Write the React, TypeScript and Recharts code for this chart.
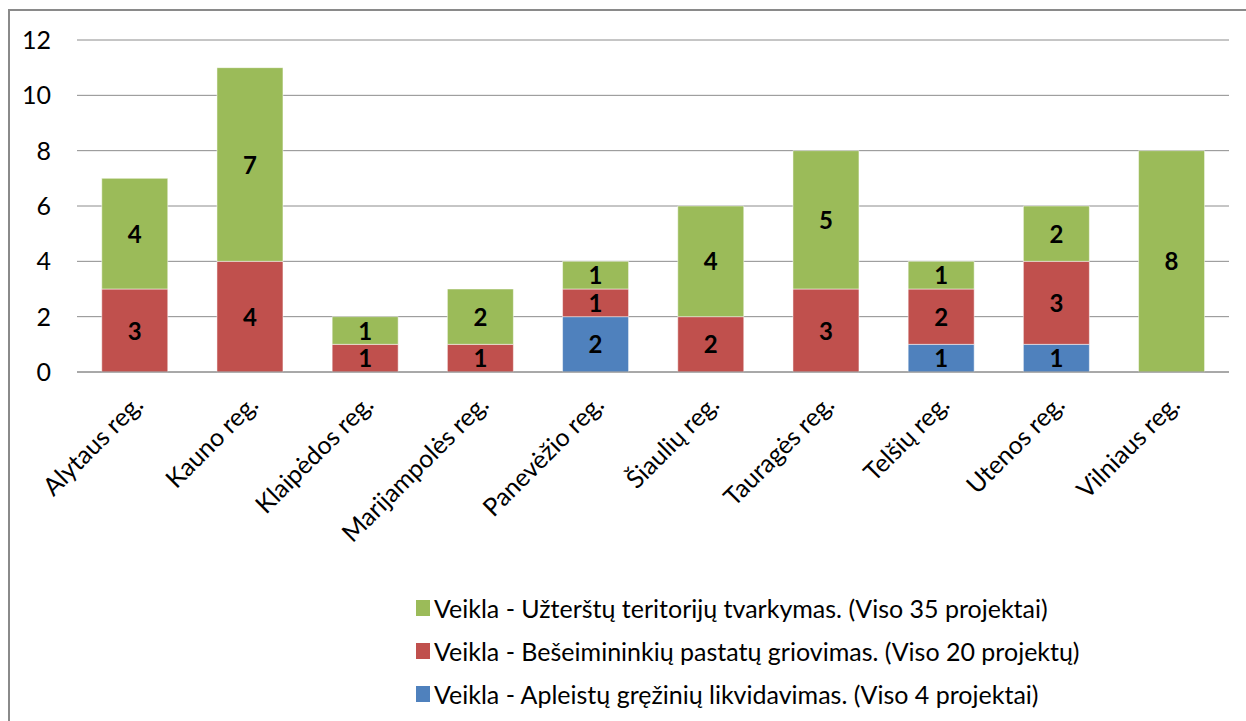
import React from 'react';
import { BarChart, Bar, XAxis, YAxis, CartesianGrid, LabelList } from 'recharts';

// Regions and project counts per activity
const regions = [
  'Alytaus reg.',
  'Kauno reg.',
  'Klaipėdos reg.',
  'Marijampolės reg.',
  'Panevėžio reg.',
  'Šiaulių reg.',
  'Tauragės reg.',
  'Telšių reg.',
  'Utenos reg.',
  'Vilniaus reg.',
];
const greziniai = [0, 0, 0, 0, 2, 0, 0, 1, 1, 0];
const pastatai = [3, 4, 1, 1, 1, 2, 3, 2, 3, 0];
const teritorijos = [4, 7, 1, 2, 1, 4, 5, 1, 2, 8];
const yTicks = [0, 2, 4, 6, 8, 10, 12];

// legend order as in the picture (top to bottom)
const legendItems = [
  { name: 'Veikla - Užterštų teritorijų tvarkymas. (Viso 35 projektai)', color: '#9BBB59' },
  { name: 'Veikla - Bešeimininkių pastatų griovimas. (Viso 20 projektų)', color: '#C0504D' },
  { name: 'Veikla - Apleistų gręžinių likvidavimas. (Viso 4 projektai)', color: '#4F81BD' },
];

const data = regions.map((name, i) => ({
  name,
  greziniai: greziniai[i],
  pastatai: pastatai[i],
  teritorijos: teritorijos[i],
}));

const FONT = 'Lato, "Liberation Sans", sans-serif';

const XTick = (props: any) => {
  const { x, y, payload } = props;
  const ax = x + 10;
  const ay = y + 32;
  return (
    <text
      x={ax}
      y={ay}
      transform={`rotate(-45, ${ax}, ${ay})`}
      textAnchor="end"
      fontSize={25}
      fontFamily={FONT}
      fill="#000"
    >
      {payload.value}
    </text>
  );
};

const SegLabel = (props: any) => {
  const { x, y, width, height, value } = props;
  if (!value) return null;
  return (
    <text
      x={x + width / 2}
      y={y + height / 2}
      dy={9}
      textAnchor="middle"
      fontSize={24}
      fontWeight="bold"
      fontFamily={FONT}
      fill="#000"
    >
      {value}
    </text>
  );
};

export default function App() {
  return (
    <div style={{ position: 'absolute', left: 0, top: 0, width: 1246, height: 721, overflow: 'hidden', background: '#fff' }}>
      <div
        style={{
          position: 'absolute',
          left: 8,
          top: 9,
          width: 1260,
          height: 740,
          border: '2px solid #8a8a8a',
        }}
      />
      <div style={{ position: 'absolute', left: 0, top: 0 }}>
        <BarChart
          width={1246}
          height={721}
          data={data}
          barCategoryGap="21.5%"
          margin={{ top: 40, right: 17, bottom: 0, left: 0 }}
        >
          <CartesianGrid horizontal vertical={false} stroke="#8c8c8c" strokeWidth={1} />
          <XAxis
            dataKey="name"
            interval={0}
            tick={<XTick />}
            tickLine={false}
            tickSize={0}
            axisLine={{ stroke: '#8c8c8c' }}
            height={349}
          />
          <YAxis
            domain={[0, 12]}
            ticks={yTicks}
            width={77}
            axisLine={false}
            tickLine={false}
            tickSize={0}
            tickMargin={26}
            tick={{ fontSize: 25, fontFamily: FONT, fill: '#000' }}
          />
          <Bar dataKey="greziniai" stackId="a" fill="#4F81BD" stroke="#ffffff" strokeWidth={0.5} isAnimationActive={false}>
            <LabelList dataKey="greziniai" content={<SegLabel />} />
          </Bar>
          <Bar dataKey="pastatai" stackId="a" fill="#C0504D" stroke="#ffffff" strokeWidth={0.5} isAnimationActive={false}>
            <LabelList dataKey="pastatai" content={<SegLabel />} />
          </Bar>
          <Bar dataKey="teritorijos" stackId="a" fill="#9BBB59" stroke="#ffffff" strokeWidth={0.5} isAnimationActive={false}>
            <LabelList dataKey="teritorijos" content={<SegLabel />} />
          </Bar>
        </BarChart>
      </div>
      <div style={{ position: 'absolute', left: 416, top: 586, fontFamily: FONT, fontSize: 25, color: '#000' }}>
        {legendItems.map((it) => (
          <div key={it.name} style={{ display: 'flex', alignItems: 'center', height: 43, whiteSpace: 'nowrap' }}>
            <span style={{ width: 14, height: 16, background: it.color, marginRight: 4, display: 'inline-block' }} />
            <span>{it.name}</span>
          </div>
        ))}
      </div>
    </div>
  );
}
